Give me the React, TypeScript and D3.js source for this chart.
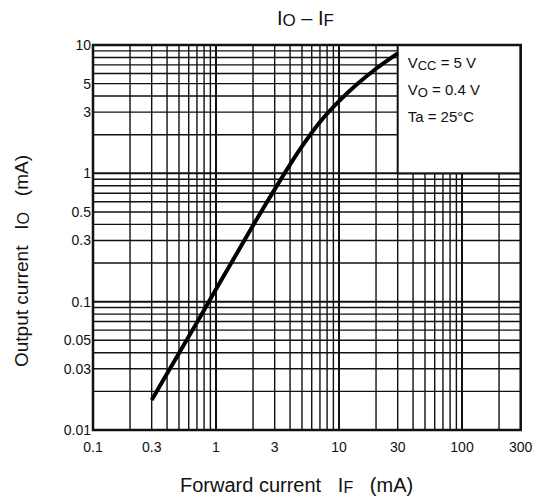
import React, { useEffect, useRef } from 'react';
import * as d3 from 'd3';

// forward current IF (mA) and output current IO (mA)
const forwardCurrent = [0.3, 0.5, 0.7, 1, 1.5, 2, 3, 4, 5, 7, 10, 14, 20, 30];
const outputCurrent = [0.0171, 0.0397, 0.0688, 0.125, 0.244, 0.392, 0.75, 1.17, 1.62, 2.51, 3.65, 4.94, 6.53, 8.6];

const xTicks = [0.1, 0.3, 1, 3, 10, 30, 100, 300];
const yTicks = [0.01, 0.03, 0.05, 0.1, 0.3, 0.5, 1, 3, 5, 10];
const conditions = [
  { main: 'V', sub: 'CC', rest: ' = 5 V' },
  { main: 'V', sub: 'O', rest: ' = 0.4 V' },
  { main: 'Ta = 25°C', sub: '', rest: '' },
];

const W = 539;
const H = 503;
const FONT = '"Liberation Sans", Arial, sans-serif';

const App: React.FC = () => {
  const svgRef = useRef<SVGSVGElement>(null);

  useEffect(() => {
    if (!svgRef.current) return;
    const svg = d3.select(svgRef.current);
    svg.selectAll('*').remove();

    const x = d3.scaleLog().domain([0.1, 300]).range([93, 520.7]);
    const y = d3.scaleLog().domain([0.01, 10]).range([430, 45]);

    // grid
    const xGrid: number[] = [];
    [0.1, 1, 10, 100].forEach(d => {
      for (let k = 1; k <= 9; k++) if (k * d <= 300) xGrid.push(+(k * d).toPrecision(3));
    });
    const yGrid: number[] = [];
    [0.01, 0.1, 1].forEach(d => {
      for (let k = 1; k <= 9; k++) yGrid.push(+(k * d).toPrecision(3));
    });
    yGrid.push(10);
    const isDecade = (v: number) => Math.abs(Math.log10(v) - Math.round(Math.log10(v))) < 1e-6;

    const g = svg.append('g');
    g.selectAll('line.vx')
      .data(xGrid)
      .join('line')
      .attr('x1', d => x(d)).attr('x2', d => x(d))
      .attr('y1', y(10)).attr('y2', y(0.01))
      .attr('stroke', '#111')
      .attr('stroke-width', d => (isDecade(d) ? 2 : 1.4));
    g.selectAll('line.hy')
      .data(yGrid)
      .join('line')
      .attr('y1', d => y(d)).attr('y2', d => y(d))
      .attr('x1', x(0.1)).attr('x2', x(300))
      .attr('stroke', '#111')
      .attr('stroke-width', d => (isDecade(d) ? 2 : 1.4));

    // condition box
    g.append('rect')
      .attr('x', x(30)).attr('y', y(10))
      .attr('width', x(300) - x(30)).attr('height', y(1) - y(10))
      .attr('fill', '#fff').attr('stroke', '#111').attr('stroke-width', 2);

    const legend = g.append('text')
      .attr('font-family', FONT).attr('font-size', 15).attr('fill', '#111');
    conditions.forEach((c, i) => {
      legend.append('tspan').attr('x', x(30) + 10).attr('y', 68 + i * 27).text(c.main);
      if (c.sub) legend.append('tspan').attr('font-size', 13).attr('dy', 1.5).text(c.sub);
      if (c.rest) legend.append('tspan').attr('dy', -1.5).text(c.rest);
    });

    // border
    g.append('rect')
      .attr('x', x(0.1)).attr('y', y(10))
      .attr('width', x(300) - x(0.1)).attr('height', y(0.01) - y(10))
      .attr('fill', 'none').attr('stroke', '#111').attr('stroke-width', 2.5);

    // curve
    const pts = forwardCurrent.map((f, i) => [f, outputCurrent[i]] as [number, number]);
    g.append('path')
      .datum(pts)
      .attr('d', d3.line<[number, number]>().x(d => x(d[0])).y(d => y(d[1])).curve(d3.curveCatmullRom.alpha(0.5)))
      .attr('fill', 'none').attr('stroke', '#000').attr('stroke-width', 4);

    // tick labels
    g.selectAll('text.xt')
      .data(xTicks)
      .join('text')
      .attr('x', d => x(d)).attr('y', 452)
      .attr('text-anchor', 'middle')
      .attr('font-family', FONT).attr('font-size', 14).attr('fill', '#111')
      .text(d => String(d));
    g.selectAll('text.yt')
      .data(yTicks)
      .join('text')
      .attr('x', 91).attr('y', d => y(d))
      .attr('dy', '0.36em')
      .attr('text-anchor', 'end')
      .attr('font-family', FONT).attr('font-size', 14).attr('fill', '#111')
      .text(d => String(d));

    // titles
    const title = g.append('text')
      .attr('x', 277).attr('y', 25)
      .attr('font-family', FONT).attr('font-size', 20).attr('fill', '#111');
    title.append('tspan').text('I');
    title.append('tspan').attr('font-size', 17).attr('dy', 1).text('O');
    title.append('tspan').attr('dy', -1).text(' – I');
    title.append('tspan').attr('font-size', 17).attr('dy', 1).text('F');

    const xTitle = g.append('text')
      .attr('x', 180).attr('y', 492)
      .attr('font-family', FONT).attr('font-size', 20).attr('fill', '#111')
      .attr('xml:space', 'preserve');
    xTitle.append('tspan').text('Forward current   I');
    xTitle.append('tspan').attr('font-size', 16).attr('dy', 1).text('F');
    xTitle.append('tspan').attr('dy', -1).text('   (mA)');

    const yTitle = g.append('text')
      .attr('transform', 'translate(28,367) rotate(-90)')
      .attr('font-family', FONT).attr('font-size', 19).attr('fill', '#111')
      .attr('xml:space', 'preserve');
    yTitle.append('tspan').text('Output current   I');
    yTitle.append('tspan').attr('font-size', 16).attr('dy', 1).text('O');
    yTitle.append('tspan').attr('dy', -1).text('   (mA)');
  }, []);

  return (
    <svg
      ref={svgRef}
      width={W}
      height={H}
      style={{ position: 'absolute', left: 0, top: 0, background: '#fff' }}
    />
  );
};

export default App;
